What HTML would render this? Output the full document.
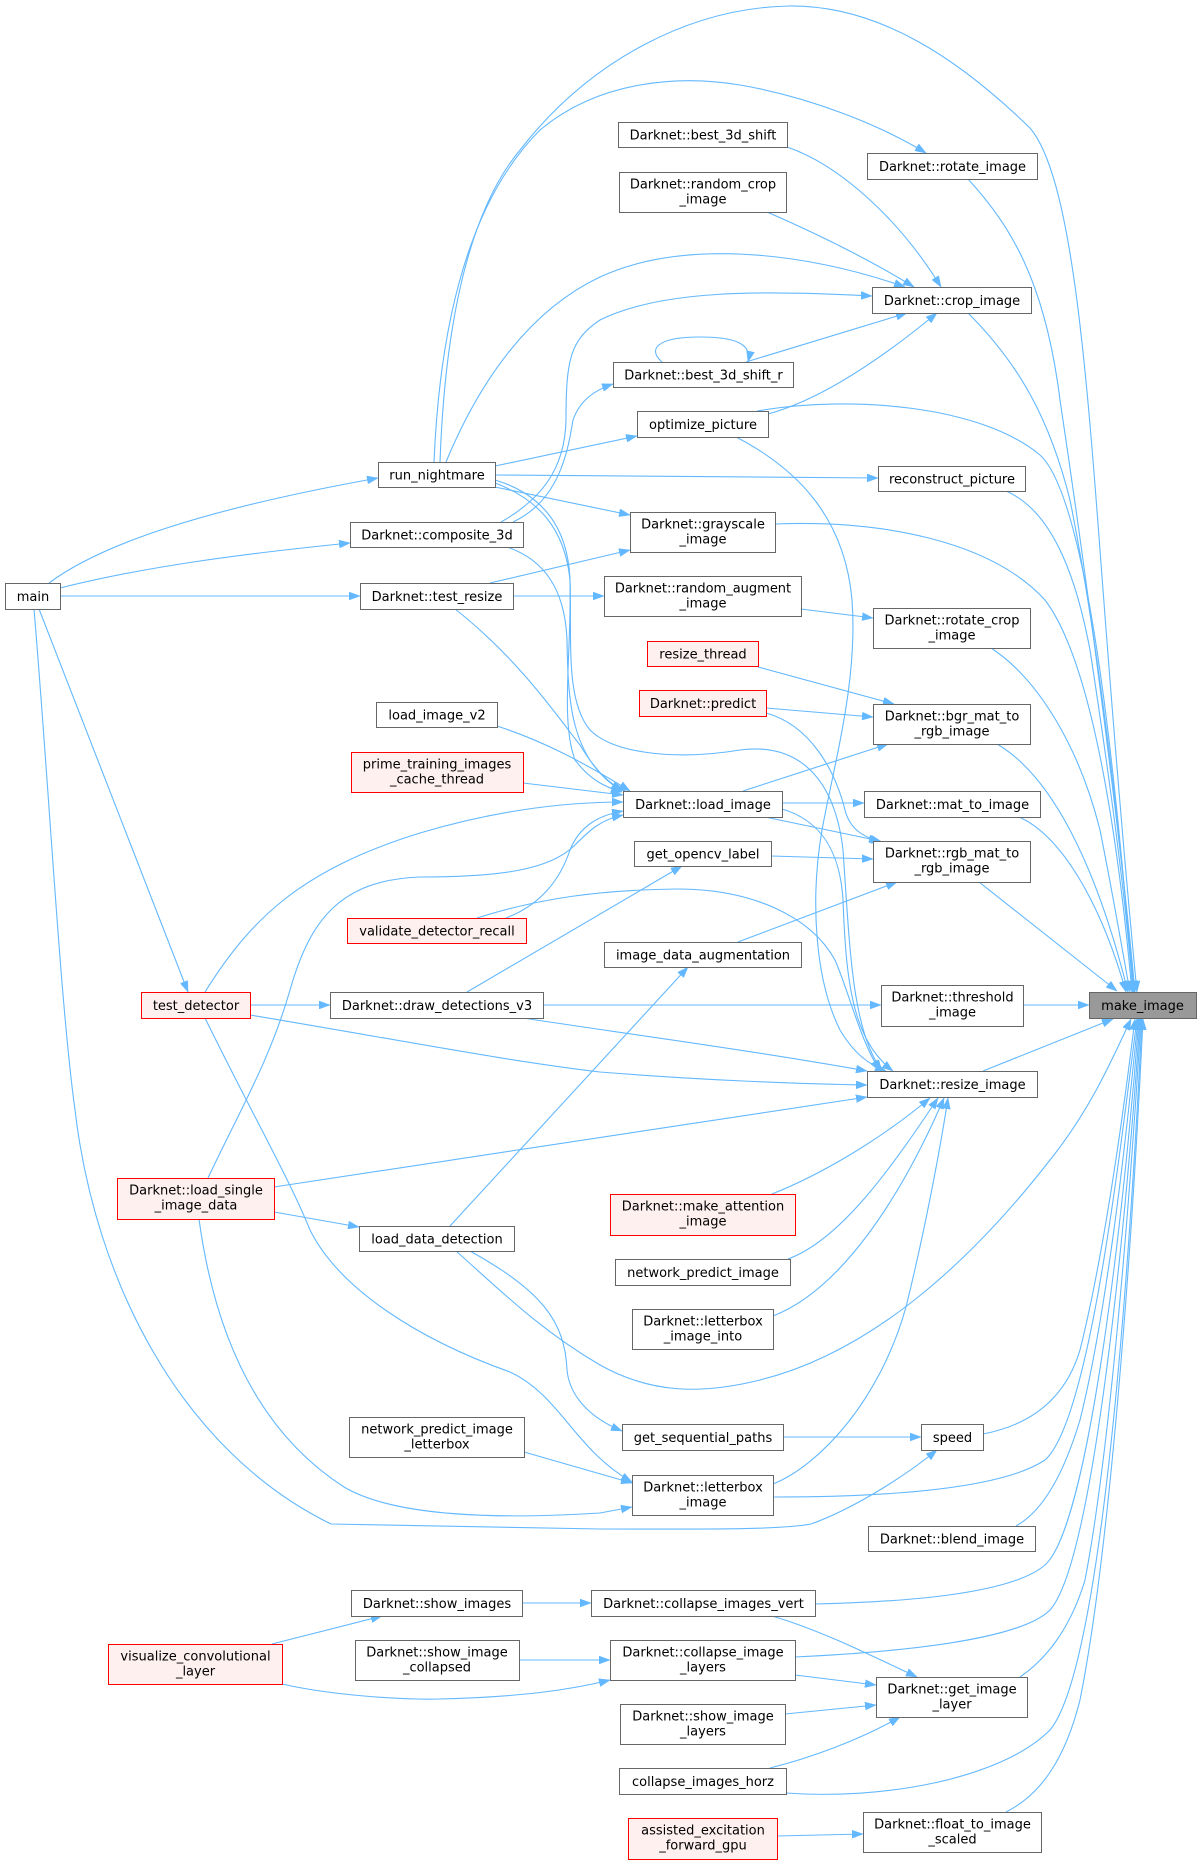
<!DOCTYPE html>
<html>
<head>
<meta charset="utf-8">
<style>
  html, body { margin: 0; padding: 0; background: #ffffff; }
  svg { display: block; }
  .n rect { fill: #ffffff; stroke: #666666; stroke-width: 1; }
  .r rect { fill: #fff0f0; stroke: #ff0000; stroke-width: 1; }
  .m rect { fill: #999999; stroke: #666666; stroke-width: 1; }
  text { font-family: "DejaVu Sans", "Liberation Sans", sans-serif; font-size: 13px; fill: #000000; text-anchor: middle; }
  .e path { fill: none; stroke: #63b8ff; stroke-width: 1.1; marker-end: url(#ah); }
  .e path.na { marker-end: none; }
</style>
</head>
<body>
<svg width="1201" height="1864" viewBox="0 0 1201 1864" xmlns="http://www.w3.org/2000/svg">
<defs>
  <marker id="ah" markerWidth="11" markerHeight="8" refX="11" refY="4" orient="auto" markerUnits="userSpaceOnUse">
    <path d="M0,0 L11,4 L0,8 z" fill="#63b8ff" stroke="#63b8ff" stroke-width="0.5"/>
  </marker>
</defs>
<rect x="0" y="0" width="1201" height="1864" fill="#ffffff"/>

<g class="e">
  <!-- into make_image from above -->
  <path d="M440,462 C445,320 470,210 520,150 C590,60 690,8 789,6 C880,5 960,60 1030,128 C1070,175 1085,350 1100,550 C1115,750 1128,900 1137,992"/>
  <path d="M968,179 C1010,225 1045,280 1060,400 C1090,600 1122,850 1135,992"/>
  <path d="M968,313 C1020,365 1050,420 1070,500 C1100,650 1122,850 1134,992"/>
  <path d="M757,411 C850,395 980,405 1040,455 C1090,500 1118,800 1133,992"/>
  <path d="M1006,491 C1050,510 1075,570 1090,650 C1110,780 1126,900 1133,992"/>
  <path d="M775,524 C880,520 990,540 1045,600 C1098,670 1122,880 1132,992"/>
  <path d="M991,648 C1040,680 1080,750 1100,830 C1114,900 1124,960 1130,992"/>
  <path d="M997,744 C1050,775 1095,860 1128,992"/>
  <path d="M1019,817 C1060,835 1100,900 1126,992"/>
  <path d="M979,882 L1117,991"/>
  <path d="M1023,1005 L1089,1005"/>
  <!-- into make_image from below -->
  <path d="M983,1071 L1113,1019"/>
  <path d="M983,1434 C1030,1425 1065,1400 1080,1350 C1105,1250 1125,1100 1135,1019"/>
  <path d="M773,1497 C880,1497 1000,1490 1045,1460 C1090,1420 1120,1150 1137,1019"/>
  <path d="M1016,1526 C1045,1510 1065,1470 1080,1420 C1110,1300 1130,1100 1138,1019"/>
  <path d="M815,1604 C900,1602 1010,1595 1045,1565 C1090,1525 1125,1200 1139,1019"/>
  <path d="M795,1657 C900,1652 1020,1640 1050,1610 C1095,1560 1128,1200 1140,1019"/>
  <path d="M1020,1677 C1045,1660 1070,1630 1085,1580 C1110,1450 1130,1200 1141,1019"/>
  <path d="M786,1793 C880,1800 1000,1780 1050,1730 C1100,1670 1128,1300 1142,1019"/>
  <path d="M1006,1812 C1040,1795 1065,1760 1080,1700 C1110,1550 1132,1250 1143,1019"/>
  <path d="M456,1251 C500,1290 540,1330 600,1365 C650,1393 700,1395 760,1380 C880,1350 980,1250 1050,1160 C1090,1110 1112,1060 1131,1019"/>

  <!-- run_nightmare edges -->
  <path d="M434,462 C440,320 470,200 540,130 C600,80 680,75 740,85 C810,97 880,125 926,153"/>
  <path d="M446,462 C480,380 530,310 600,277 C680,240 800,250 905,287"/>
  <path d="M495,466 L637,436"/>
  <path d="M495,475 L878,478"/>
  <path d="M495,487 L630,515"/>
  <path d="M495,483 C540,500 565,530 570,580 C572,650 560,720 575,760 C590,780 605,787 622,792"/>
  <path d="M495,480 C545,495 568,530 570,580 C572,640 565,700 590,730 C615,755 680,760 740,750 C800,742 835,780 843,850 C850,950 852,1030 882,1071"/>

  <!-- composite_3d edges -->
  <path d="M501,522 C540,500 565,470 566,420 C566,360 570,340 600,320 C660,290 760,290 872,296"/>
  <path d="M513,522 C560,500 568,450 573,420 C580,400 595,390 613,384"/>
  <path d="M507,547 C545,560 565,590 567,640 C568,700 570,760 622,791"/>

  <!-- crop_image callers -->
  <path d="M787,147 C840,165 900,220 941,287"/>
  <path d="M767,212 C820,235 870,260 914,287"/>
  <path d="M746,362 L907,313"/>
  <path d="M768,414 C820,400 880,360 937,313"/>
  <path d="M662,362 C648,350 655,337 700,337 C738,337 752,345 748,362"/>

  <!-- main edges -->
  <path d="M49,583 C100,545 200,510 378,478"/>
  <path d="M60,588 C140,568 230,555 350,543"/>
  <path d="M60,596 L360,596"/>
  <path d="M39,609 L188,992"/>
  <path d="M34,609 C50,800 60,1000 75,1110 C95,1280 180,1450 331,1524 L600,1529 C700,1529 780,1530 811,1524 C850,1510 900,1480 937,1450"/>

  <!-- test_resize -->
  <path d="M490,583 L630,550"/>
  <path d="M513,596 L604,596"/>
  <path d="M455,609 C520,660 560,720 580,745 C595,770 610,785 625,791"/>
  <path d="M801,609 L873,618"/>

  <!-- load_image callers -->
  <path d="M497,726 C540,740 580,760 630,791"/>
  <path d="M523,783 L623,795"/>
  <path d="M205,992 C250,920 300,870 420,833 C490,812 560,802 623,802"/>
  <path d="M208,1178 C240,1110 270,1060 290,990 C310,920 340,880 420,877 C500,877 550,870 575,845 C590,830 600,820 623,815"/>
  <path d="M506,918 C540,905 560,880 570,850 C580,825 600,815 623,811"/>

  <!-- bgr / rgb / mat -->
  <path d="M758,667 L894,704"/>
  <path d="M766,708 L873,717"/>
  <path d="M766,713 C810,725 835,770 845,810 C850,830 865,838 882,842"/>
  <path d="M743,791 L888,744"/>
  <path d="M782,803 L864,803"/>
  <path d="M765,817 L880,841"/>
  <path d="M771,856 L873,859"/>
  <path d="M738,942 L897,882"/>

  <!-- draw_detections / test_detector -->
  <path d="M250,1005 L330,1005"/>
  <path d="M467,992 L682,866"/>
  <path d="M543,1005 L881,1005"/>
  <path d="M523,1018 C600,1030 750,1050 867,1071"/>
  <path d="M250,1015 C400,1040 500,1060 600,1072 C700,1080 800,1084 867,1085"/>
  <path d="M205,1018 C250,1110 290,1180 310,1230 C340,1290 420,1340 510,1372 C560,1395 575,1450 632,1482"/>

  <!-- resize_image other callers -->
  <path d="M477,918 C540,898 600,890 677,889 C750,889 810,915 835,960 C850,995 860,1040 880,1071"/>
  <path d="M782,809 C820,820 840,850 843,900 C846,980 852,1040 893,1071"/>
  <path d="M736,437 C800,470 845,520 852,600 C858,680 835,760 822,830 C810,900 815,980 840,1030 C855,1055 870,1065 886,1071"/>
  <path d="M274,1187 L867,1097"/>
  <path d="M772,1194 C820,1175 880,1140 930,1098"/>
  <path d="M788,1259 C840,1240 890,1170 938,1098"/>
  <path d="M773,1316 C840,1290 900,1200 944,1098"/>
  <path d="M773,1484 C820,1465 880,1400 906,1307 C925,1230 940,1150 948,1098"/>

  <!-- load_single / load_data_detection -->
  <path d="M274,1212 L359,1227"/>
  <path d="M199,1219 C210,1300 240,1420 344,1487 C400,1520 520,1518 600,1513 L632,1507"/>
  <path d="M450,1226 L688,967"/>
  <path d="M470,1251 C540,1290 565,1320 567,1370 C570,1400 595,1420 622,1431"/>

  <!-- lower section -->
  <path d="M783,1437 L921,1437"/>
  <path d="M524,1452 L632,1483"/>
  <path d="M522,1603 L591,1603"/>
  <path d="M272,1644 L382,1616"/>
  <path d="M282,1684 C330,1695 400,1700 440,1699 C520,1697 570,1690 610,1680"/>
  <path d="M519,1660 L610,1660"/>
  <path d="M772,1616 C820,1630 870,1655 917,1677"/>
  <path d="M795,1675 L876,1685"/>
  <path d="M785,1714 L876,1705"/>
  <path d="M770,1768 C810,1758 860,1740 900,1717"/>
  <path d="M777,1836 L863,1834"/>
</g>

<!-- Nodes -->
<g class="m"><rect x="1089.5" y="992.5" width="107" height="26"/><text x="1142.5" y="1010">make_image</text></g>

<g class="n"><rect x="867.5" y="153.5" width="170" height="26"/><text x="952.5" y="171">Darknet::rotate_image</text></g>
<g class="n"><rect x="872.5" y="287.5" width="159" height="26"/><text x="952" y="305">Darknet::crop_image</text></g>
<g class="n"><rect x="878.5" y="466.5" width="147" height="25"/><text x="952" y="483.5">reconstruct_picture</text></g>
<g class="n"><rect x="873.5" y="608.5" width="157" height="40"/><text x="952" y="624.5">Darknet::rotate_crop</text><text x="952" y="639.5">_image</text></g>
<g class="n"><rect x="873.5" y="704.5" width="157" height="40"/><text x="952" y="720.5">Darknet::bgr_mat_to</text><text x="952" y="735.5">_rgb_image</text></g>
<g class="n"><rect x="864.5" y="791.5" width="176" height="26"/><text x="952.5" y="809">Darknet::mat_to_image</text></g>
<g class="n"><rect x="873.5" y="841.5" width="157" height="41"/><text x="952" y="857.5">Darknet::rgb_mat_to</text><text x="952" y="872.5">_rgb_image</text></g>
<g class="n"><rect x="881.5" y="985.5" width="142" height="41"/><text x="952.5" y="1001.5">Darknet::threshold</text><text x="952.5" y="1016.5">_image</text></g>
<g class="n"><rect x="867.5" y="1071.5" width="170" height="26"/><text x="952.5" y="1089">Darknet::resize_image</text></g>
<g class="n"><rect x="921.5" y="1424.5" width="62" height="26"/><text x="952.5" y="1442">speed</text></g>
<g class="n"><rect x="868.5" y="1526.5" width="167" height="25"/><text x="952" y="1543.5">Darknet::blend_image</text></g>
<g class="n"><rect x="876.5" y="1677.5" width="151" height="40"/><text x="952" y="1693.5">Darknet::get_image</text><text x="952" y="1708.5">_layer</text></g>
<g class="n"><rect x="863.5" y="1812.5" width="178" height="40"/><text x="952.5" y="1828.5">Darknet::float_to_image</text><text x="952.5" y="1843.5">_scaled</text></g>

<g class="n"><rect x="618.5" y="122.5" width="169" height="25"/><text x="703" y="139.5">Darknet::best_3d_shift</text></g>
<g class="n"><rect x="619.5" y="172.5" width="167" height="40"/><text x="703" y="188.5">Darknet::random_crop</text><text x="703" y="203.5">_image</text></g>
<g class="n"><rect x="613.5" y="362.5" width="180" height="25"/><text x="703.5" y="379.5">Darknet::best_3d_shift_r</text></g>
<g class="n"><rect x="637.5" y="411.5" width="131" height="26"/><text x="703" y="429">optimize_picture</text></g>
<g class="n"><rect x="630.5" y="512.5" width="145" height="40"/><text x="703" y="528.5">Darknet::grayscale</text><text x="703" y="543.5">_image</text></g>
<g class="n"><rect x="604.5" y="576.5" width="197" height="40"/><text x="703" y="592.5">Darknet::random_augment</text><text x="703" y="607.5">_image</text></g>
<g class="r"><rect x="647.5" y="641.5" width="111" height="25"/><text x="703" y="658.5">resize_thread</text></g>
<g class="r"><rect x="639.5" y="690.5" width="127" height="26"/><text x="703" y="708">Darknet::predict</text></g>
<g class="n"><rect x="623.5" y="791.5" width="159" height="26"/><text x="703" y="809">Darknet::load_image</text></g>
<g class="n"><rect x="634.5" y="841.5" width="137" height="25"/><text x="703" y="858.5">get_opencv_label</text></g>
<g class="n"><rect x="604.5" y="942.5" width="197" height="25"/><text x="703" y="959.5">image_data_augmentation</text></g>
<g class="r"><rect x="610.5" y="1194.5" width="185" height="41"/><text x="703" y="1210.5">Darknet::make_attention</text><text x="703" y="1225.5">_image</text></g>
<g class="n"><rect x="615.5" y="1259.5" width="175" height="26"/><text x="703" y="1277">network_predict_image</text></g>
<g class="n"><rect x="632.5" y="1309.5" width="141" height="40"/><text x="703" y="1325.5">Darknet::letterbox</text><text x="703" y="1340.5">_image_into</text></g>
<g class="n"><rect x="622.5" y="1424.5" width="161" height="26"/><text x="703" y="1442">get_sequential_paths</text></g>
<g class="n"><rect x="632.5" y="1475.5" width="141" height="40"/><text x="703" y="1491.5">Darknet::letterbox</text><text x="703" y="1506.5">_image</text></g>
<g class="n"><rect x="591.5" y="1590.5" width="224" height="26"/><text x="703.5" y="1608">Darknet::collapse_images_vert</text></g>
<g class="n"><rect x="610.5" y="1640.5" width="185" height="40"/><text x="703" y="1656.5">Darknet::collapse_image</text><text x="703" y="1671.5">_layers</text></g>
<g class="n"><rect x="620.5" y="1704.5" width="165" height="40"/><text x="703" y="1720.5">Darknet::show_image</text><text x="703" y="1735.5">_layers</text></g>
<g class="n"><rect x="619.5" y="1768.5" width="167" height="26"/><text x="703" y="1786">collapse_images_horz</text></g>
<g class="r"><rect x="628.5" y="1818.5" width="149" height="41"/><text x="703" y="1834.5">assisted_excitation</text><text x="703" y="1849.5">_forward_gpu</text></g>

<g class="n"><rect x="378.5" y="462.5" width="117" height="25"/><text x="437" y="479.5">run_nightmare</text></g>
<g class="n"><rect x="350.5" y="522.5" width="173" height="25"/><text x="437" y="539.5">Darknet::composite_3d</text></g>
<g class="n"><rect x="360.5" y="583.5" width="153" height="26"/><text x="437" y="601">Darknet::test_resize</text></g>
<g class="n"><rect x="376.5" y="702.5" width="121" height="25"/><text x="437" y="719.5">load_image_v2</text></g>
<g class="r"><rect x="351.5" y="752.5" width="172" height="40"/><text x="437" y="768.5">prime_training_images</text><text x="437" y="783.5">_cache_thread</text></g>
<g class="r"><rect x="347.5" y="918.5" width="179" height="25"/><text x="437" y="935.5">validate_detector_recall</text></g>
<g class="n"><rect x="330.5" y="992.5" width="213" height="26"/><text x="437" y="1010">Darknet::draw_detections_v3</text></g>
<g class="n"><rect x="359.5" y="1226.5" width="155" height="25"/><text x="437" y="1243.5">load_data_detection</text></g>
<g class="n"><rect x="349.5" y="1417.5" width="175" height="40"/><text x="437" y="1433.5">network_predict_image</text><text x="437" y="1448.5">_letterbox</text></g>
<g class="n"><rect x="351.5" y="1590.5" width="171" height="26"/><text x="437" y="1608">Darknet::show_images</text></g>
<g class="n"><rect x="355.5" y="1640.5" width="164" height="40"/><text x="437" y="1656.5">Darknet::show_image</text><text x="437" y="1671.5">_collapsed</text></g>

<g class="n"><rect x="5.5" y="583.5" width="55" height="26"/><text x="33" y="601">main</text></g>
<g class="r"><rect x="141.5" y="992.5" width="109" height="26"/><text x="196" y="1010">test_detector</text></g>
<g class="r"><rect x="117.5" y="1178.5" width="157" height="41"/><text x="196" y="1194.5">Darknet::load_single</text><text x="196" y="1209.5">_image_data</text></g>
<g class="r"><rect x="108.5" y="1644.5" width="174" height="40"/><text x="195.5" y="1660.5">visualize_convolutional</text><text x="195.5" y="1675.5">_layer</text></g>
</svg>
</body>
</html>
